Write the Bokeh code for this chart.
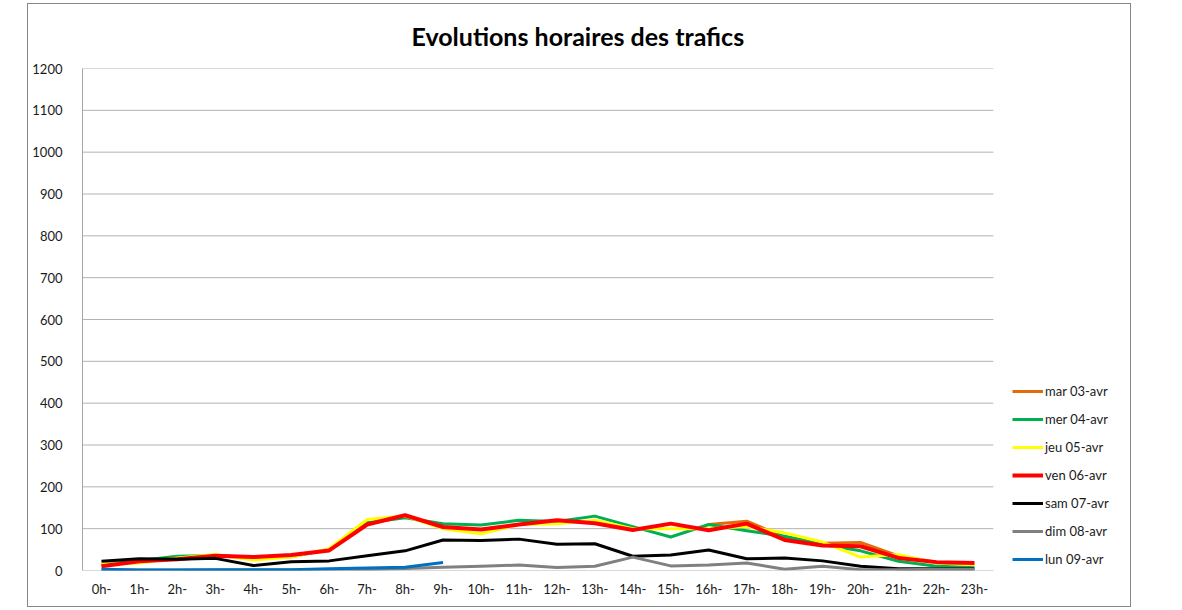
from bokeh.plotting import figure
from bokeh.models import Range1d, Legend, LegendItem, FixedTicker
from bokeh.embed import file_html
from bokeh.resources import INLINE

hours = [f"{h}h-" for h in range(24)]
y_ticks = [0, 100, 200, 300, 400, 500, 600, 700, 800, 900, 1000, 1100, 1200]

mar_start = 16
mar = [110, 118, 80, 65, 67, 35, 20, 18]
mer = [14, 24, 34, 36, 31, 33, 50, 114, 126, 112, 109, 120, 117, 130, 105, 80, 110, 95, 82, 62, 47, 22, 10, 8]
jeu = [15, 18, 30, 38, 25, 32, 52, 122, 130, 100, 88, 110, 112, 120, 100, 100, 100, 105, 90, 68, 32, 38, 18, 14]
ven = [10, 22, 27, 35, 32, 37, 48, 110, 132, 104, 98, 110, 120, 113, 97, 112, 96, 112, 73, 60, 58, 30, 20, 18]
sam = [22, 28, 27, 29, 12, 21, 23, 35, 47, 73, 72, 75, 63, 64, 34, 37, 49, 28, 30, 23, 10, 4, 4, 4]
dim = [1, 1, 1, 1, 1, 1, 1, 2, 5, 8, 10, 13, 7, 10, 32, 11, 13, 18, 3, 10, 2, 2, 3, 3]
lun_start = 0
lun = [3, 1, 1, 2, 2, 2, 4, 6, 8, 19]

labels = ["mar 03-avr", "mer 04-avr", "jeu 05-avr", "ven 06-avr", "sam 07-avr", "dim 08-avr", "lun 09-avr"]
colors = ["#E36C09", "#00B050", "#FFFF00", "#FF0000", "#000000", "#808080", "#0070C0"]

FONT = "Lato"
n = len(hours)
centers = [i + 0.5 for i in range(n)]
# plot area: 910px for the 24 hour bands, the rest on the right holds the legend
x_end = n * 1049 / 910

p = figure(x_range=Range1d(0, x_end), y_range=Range1d(0, 1200),
           width=1104, height=604,
           output_backend="svg", toolbar_location=None,
           min_border_left=54, min_border_right=0, min_border_top=64, min_border_bottom=38,
           title="Evolutions horaires des trafics")
p.styles = {"border": "1px solid #868686", "margin-left": "27px", "margin-top": "3px"}

p.title.text_font = FONT
p.title.text_font_size = "25px"
p.title.text_font_style = "bold"
p.title.align = "left"
p.title.vertical_align = "top"
p.title.offset = 329
p.title.standoff = 31
p.title.text_color = "#000000"

p.outline_line_color = None
p.xgrid.grid_line_color = None
p.ygrid.grid_line_color = None

# horizontal gridlines across the hour bands only
p.segment(x0=[0] * len(y_ticks), x1=[n] * len(y_ticks), y0=y_ticks, y1=y_ticks,
          line_color="#B3B3B3", line_width=1)

p.yaxis.ticker = FixedTicker(ticks=y_ticks)
p.xaxis.ticker = FixedTicker(ticks=centers)
p.xaxis.major_label_overrides = {c: h for c, h in zip(centers, hours)}
p.xaxis.axis_line_color = None
p.yaxis.axis_line_color = "#A6A6A6"
for ax in (p.xaxis[0], p.yaxis[0]):
    ax.major_tick_line_color = None
    ax.minor_tick_line_color = None
    ax.major_label_text_font = FONT
    ax.major_label_text_font_size = "13px"
    ax.major_label_text_color = "#1A1A1A"
p.yaxis.major_label_standoff = 14
p.xaxis.major_label_standoff = 4

series = [(centers[mar_start:mar_start + len(mar)], mar), (centers, mer), (centers, jeu), (centers, ven),
          (centers, sam), (centers, dim), (centers[lun_start:lun_start + len(lun)], lun)]
items = []
for (xs, ys), lab, col in zip(series, labels, colors):
    w = 4 if col == "#FF0000" else 3
    r = p.line(xs, ys, line_color=col, line_width=w, line_join="round")
    items.append(LegendItem(label=lab, renderers=[r]))

legend = Legend(items=items, location=(930, 1), padding=0, margin=0,
                border_line_color=None, background_fill_alpha=0,
                glyph_width=31, glyph_height=20, label_height=20, spacing=8,
                label_standoff=2, label_text_font=FONT, label_text_font_size="13px",
                label_text_color="#1A1A1A")
p.add_layout(legend, "center")

open("out.html", "w").write(file_html(p, INLINE))
